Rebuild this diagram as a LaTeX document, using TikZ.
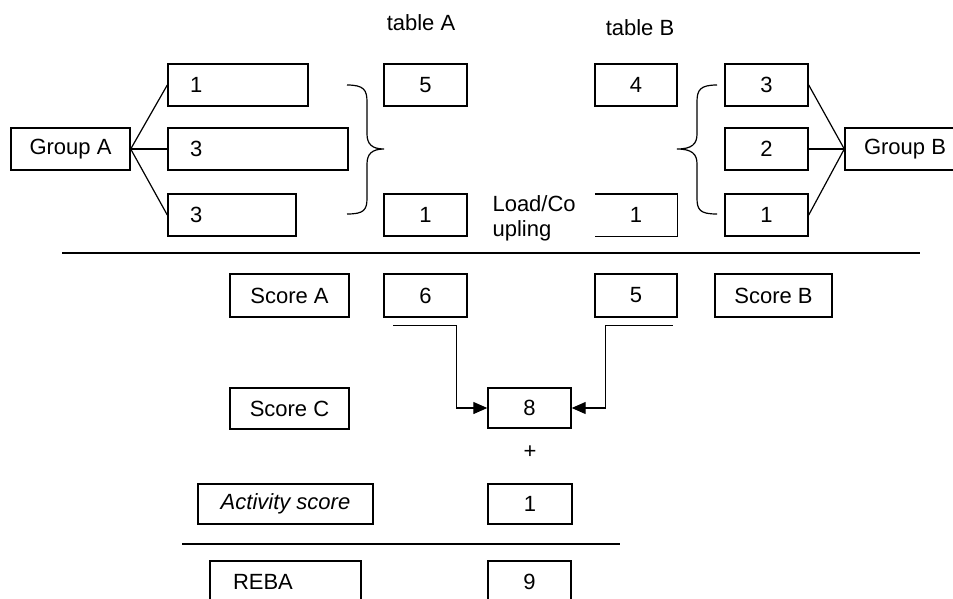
\documentclass[tikz,border=0pt]{standalone}
\usepackage{fontspec}
\setmainfont{Liberation Sans}
\usetikzlibrary{arrows.meta,calc}
\tikzset{
  lab/.style={font=\fontsize{22}{25}\selectfont},
  box/.style={lab,draw,line width=1.4pt,minimum height=42pt,inner sep=0pt},
  lbox/.style={box,inner xsep=22pt,align=left},
  conn/.style={line width=1.2pt},
  arr/.style={-{Triangle[length=14pt,width=12pt]},line width=1.2pt},
  brc/.style={line width=1.2pt}
}

\begin{document}
\begin{tikzpicture}[x=1pt,y=-1pt]
\path[use as bounding box] (0,0) rectangle (953,598);
% group A and table A
\node[box,minimum width=119pt] (grpA) at (70.5,149) {Group A};
\node[lbox,text width=96pt] (a1) at (238,85) {1};
\node[lbox,text width=136pt] (a2) at (258,149) {3};
\node[lbox,text width=84pt] (a3) at (232,215) {3};
\foreach \n in {a1,a2,a3} \draw[conn] (grpA.east) -- (\n.west);
\draw[brc] (347,85) .. controls (364,85) and (367,90) .. (367,102) -- (367,134)
  .. controls (367,144) and (372,149) .. (384,149)
  .. controls (372,149) and (367,154) .. (367,164) -- (367,198)
  .. controls (367,210) and (364,214) .. (347,214);
\node[lab] (tabA) at (421,23) {table A};
\foreach \n/\y/\t in {tA1/85/5,tA2/215/1}
  \node[box,minimum width=83pt] (\n) at (425.5,\y) {\t};
\node[lab,anchor=west,align=left] (load) at (489,218) {Load/Co\\upling};
% table B and group B
\node[lab] (tabB) at (640,28) {table B};
\node[box,minimum width=82pt] (tB1) at (636,85) {4};
\node[lab,minimum width=82pt,minimum height=42pt,inner sep=0pt] (tB2) at (636,215) {1};
\draw[line width=1.4pt] (tB2.north west) -- (tB2.north east) -- (tB2.south east) -- (tB2.south west);
\draw[brc] (717,85) .. controls (700,85) and (697,90) .. (697,102) -- (697,134)
  .. controls (697,144) and (692,149) .. (677,149)
  .. controls (692,149) and (697,154) .. (697,164) -- (697,198)
  .. controls (697,210) and (700,214) .. (717,214);
\foreach \n/\y/\t in {b1/85/3,b2/149/2,b3/215/1}
  \node[box,minimum width=83pt] (\n) at (766.5,\y) {\t};
\node[box,minimum width=120pt] (grpB) at (905,149) {Group B};
\foreach \n in {b1,b2,b3} \draw[conn] (\n.east) -- (grpB.west);
\draw[conn] (62,253) -- (920,253);
% scores
\node[box,minimum width=119pt,minimum height=43pt] (scA) at (289.5,295.5) {Score A};
\node[box,minimum width=83pt,minimum height=43pt] (sc6) at (425.5,295.5) {6};
\node[box,minimum width=82pt,minimum height=43pt] (sc5) at (636,295.5) {5};
\node[box,minimum width=117pt,minimum height=43pt] (scB) at (773.5,295.5) {Score B};
\node[box,minimum width=119pt,minimum height=41pt] (scC) at (289.5,408.5) {Score C};
\node[box,minimum width=83pt,minimum height=40pt] (sc8) at (529.5,408) {8};
\coordinate (cA) at ($(sc6.south west)+(10,8)$);
\coordinate (cB) at ($(sc5.south east)+(-5,8)$);
\draw[arr] (cA) -- ++(63,0) |- (sc8.west);
\draw[arr] (cB) -- ++(-67,0) |- (sc8.east);
\node[lab] (plus) at (530,452) {+};
\node[box,minimum width=175pt,minimum height=40pt,font=\fontsize{22}{25}\selectfont\itshape] (act) at (285.5,504) {Activity score};
\node[box,minimum width=84pt,minimum height=40pt] (sc1) at (530,504) {1};
\draw[conn] (182,544) -- (620,544);
\node[lbox,inner xsep=23pt,text width=105pt] (reba) at (285.5,582) {REBA};
\node[box,minimum width=83pt] (sc9) at (529.5,582) {9};
\end{tikzpicture}
\end{document}
